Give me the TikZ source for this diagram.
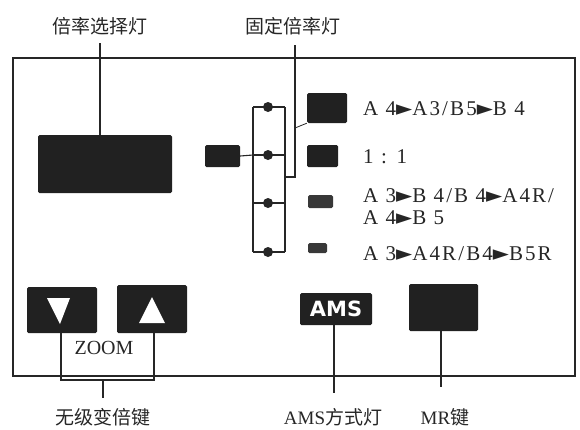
\documentclass[tikz,border=0pt]{standalone}
\usepackage{fontspec}
\setmainfont{Liberation Serif}
\newfontfamily\cjk{Noto Sans CJK SC}
\newfontfamily\symf{DejaVu Sans}
\newcommand\myarr{{\symf\char"25BA}}
\begin{document}
\begin{tikzpicture}[x=1pt,y=-1pt,
  dark/.style={fill=black!87,draw=none,inner sep=0pt,rounded corners=1.5pt},
  lead/.style={line width=1.1pt,black!85},
  cjklab/.style={font=\cjk\fontsize{19}{21}\selectfont,inner sep=0pt,text=black!85},
  lab/.style={font=\fontsize{21}{22}\selectfont\addfontfeature{LetterSpace=10},inner sep=0pt,anchor=west,text=black!85,align=left},
  dot/.style={circle,fill=black!85,inner sep=0pt,minimum size=10pt}]
\useasboundingbox (0,0) rectangle (580,429);
% frame
\draw[line width=2pt,black!85] (13,58) rectangle (575,376);
% top labels
\node[cjklab] (lab1) at (100,26) {倍率选择灯};
\node[cjklab] (lab2) at (293,26) {固定倍率灯};
% display
\node[dark,minimum width=134pt,minimum height=58pt] (disp) at (105,164) {};
\coordinate (t1) at (100,43);
\draw[lead] (t1) -- (t1 |- disp.north);
% selector
\node[dark,minimum width=35pt,minimum height=22pt] (sel) at (222.5,156) {};
\node[dot] (d1) at (268,107) {};
\node[dot] (d2) at (268,155) {};
\node[dot] (d3) at (268,203) {};
\node[dot] (d4) at (268,252) {};
\coordinate (bl1) at (253,107); \coordinate (bl4) at (253,252);
\coordinate (br1) at (285,107); \coordinate (br4) at (285,252);
\draw[lead] (bl1) -- (bl4) (br1) -- (br4);
\foreach \d in {d1,d2,d3,d4}{\draw[lead] (\d -| bl1) -- (\d -| br1);}
\draw[lead] (sel.east) -- (d2 -| bl1);
% fixed lamps
\node[dark,minimum width=40pt,minimum height=30pt] (L1) at (327,108) {};
\node[dark,minimum width=31pt,minimum height=22pt] (L2) at (322.5,156) {};
\node[dark,minimum width=25pt,minimum height=13pt,fill=black!78] (L3) at (320.5,201.5) {};
\node[dark,minimum width=19pt,minimum height=10pt,fill=black!78] (L4) at (317.5,248) {};
\coordinate (t2) at (295,45);
\coordinate (t2b) at (295,177);
\draw[lead] (t2) -- (t2b) -- (t2b -| br1);
\draw[lead,line width=0.8pt] (295,128) -- (L1.south west);
% lamp labels
\node[lab] (x1) at (363,109) {A 4\myarr A3/B5\myarr B 4};
\node[lab] (x2) at (363,157) {1 : 1};
\node[lab] (x3) at (363,207) {A 3\myarr B 4/B 4\myarr A4R/\\A 4\myarr B 5};
\node[lab] (x4) at (363,254) {A 3\myarr A4R/B4\myarr B5R};
% buttons
\node[dark,minimum width=70pt,minimum height=46pt] (bdn) at (62,310) {};
\node[dark,minimum width=70pt,minimum height=48pt] (bup) at (152,309) {};
\fill[white] (47,298) -- (70,298) -- (60,324) -- cycle;
\fill[white] (139,323) -- (165,323) -- (152,297) -- cycle;
\node[font=\fontsize{20}{22}\selectfont,inner sep=0pt,text=black!85] (zoom) at (104,348) {ZOOM};
\coordinate (zl) at (61,380); \coordinate (zr) at (154,380);
\draw[lead] (bdn.south -| zl) -- (zl) -- (zr) -- (bup.south -| zr);
\node[cjklab] (lab3) at (103,417) {无级变倍键};
\draw[lead] (103,380) -- (103,398);
% AMS
\node[dark,minimum width=72pt,minimum height=32pt,text=white,font=\symf\bfseries\fontsize{21}{22}\selectfont] (ams) at (336,309) {AMS};
\node[cjklab] (lab4) at (333,417) {{\rmfamily AMS}方式灯};
\coordinate (t4) at (334,393);
\draw[lead] (ams.south -| t4) -- (t4);
% MR
\node[dark,minimum width=69pt,minimum height=47pt] (mr) at (443.5,307.5) {};
\node[cjklab] (lab5) at (445,417) {{\rmfamily MR}键};
\coordinate (t5) at (441,387);
\draw[lead] (mr.south -| t5) -- (t5);
\end{tikzpicture}
\end{document}
